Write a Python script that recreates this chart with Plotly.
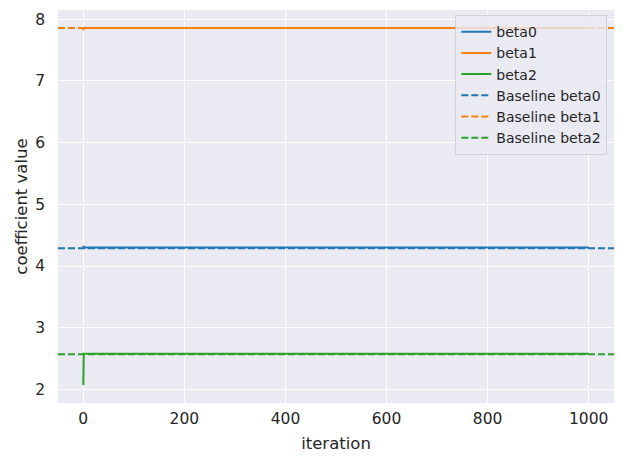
import plotly.graph_objects as go

# Data
iterations = [0, 1, 1000]
beta0 = [4.33, 4.30, 4.30]
beta1 = [7.82, 7.86, 7.86]
beta2 = [2.07, 2.58, 2.58]
baseline_beta0 = 4.29
baseline_beta1 = 7.86
baseline_beta2 = 2.57
x_range = [-50, 1050]
y_range = [1.78, 8.15]
x_ticks = [0, 200, 400, 600, 800, 1000]
y_ticks = [2, 3, 4, 5, 6, 7, 8]

colors = ["#1f77b4", "#ff7f0e", "#2ca02c"]
names = ["beta0", "beta1", "beta2"]
series = [beta0, beta1, beta2]
baselines = [baseline_beta0, baseline_beta1, baseline_beta2]

fig = go.Figure()
for name, ys, c in zip(names, series, colors):
    fig.add_trace(go.Scatter(x=iterations, y=ys, mode="lines", name=name,
                             line=dict(color=c, width=2)))
for name, b, c in zip(names, baselines, colors):
    fig.add_trace(go.Scatter(x=x_range, y=[b, b], mode="lines",
                             name="Baseline " + name,
                             line=dict(color=c, width=2, dash="7px,3px")))

font_color = "#262626"
fig.update_layout(
    width=623, height=463,
    margin=dict(l=58, r=9, t=10, b=60),
    paper_bgcolor="white",
    plot_bgcolor="#EAEAF2",
    font=dict(family="DejaVu Sans", color=font_color, size=14),
    showlegend=True,
    legend=dict(x=0.988, y=0.987, xanchor="right", yanchor="top",
                bgcolor="rgba(234,234,242,0.8)", bordercolor="rgba(204,204,204,0.8)",
                borderwidth=1, font=dict(size=14, color=font_color),
                tracegroupgap=0, itemwidth=30),
    xaxis=dict(range=x_range, tickvals=x_ticks, showgrid=True, gridcolor="white",
               gridwidth=1.3, zeroline=False, showline=False, ticks="",
               ticklabelstandoff=4,
               tickfont=dict(size=15.5), title=dict(text="iteration", font=dict(size=16.5), standoff=10)),
    yaxis=dict(range=y_range, tickvals=y_ticks, showgrid=True, gridcolor="white",
               gridwidth=1.3, zeroline=False, showline=False, ticks="",
               ticklabelstandoff=12,
               tickfont=dict(size=15.5), title=dict(text="coefficient value", font=dict(size=16.5), standoff=3)),
)

fig.write_html("out.html")
